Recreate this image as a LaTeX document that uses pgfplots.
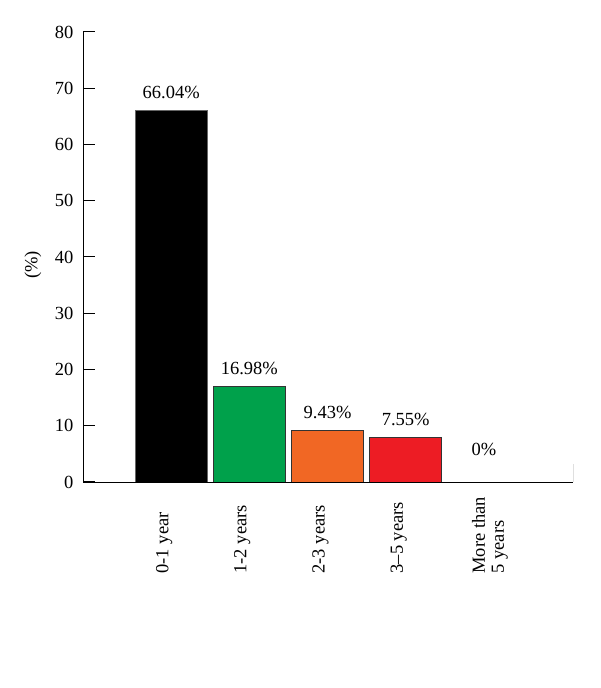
\documentclass[border=0pt]{standalone}
\usepackage{fontspec}
\setmainfont{Liberation Serif}
\usepackage{pgfplots}
\pgfplotsset{compat=1.18}
\definecolor{barblack}{RGB}{0,0,0}
\definecolor{bargreen}{RGB}{0,161,75}
\definecolor{barorange}{RGB}{241,103,36}
\definecolor{barred}{RGB}{237,28,36}
\begin{document}
\begin{tikzpicture}[x=1pt,y=1pt]
\path[use as bounding box] (0,0) rectangle (600,688);
\begin{axis}[
    at={(83pt,206pt)}, anchor=south west,
    scale only axis,
    width=490pt, height=450pt,
    xmin=-1.128, xmax=5.14,
    ymin=0, ymax=80,
    axis lines=left,
    axis line style={-, line width=0.9pt},
    ytick={0,10,...,80},
    xtick={0,1,2,3},
    xticklabels={0-1 year, 1-2 years, 2-3 years, 3--5 years},
    extra x ticks={4},
    extra x tick labels={{More than\\5 years}},
    extra x tick style={xticklabel style={yshift=-13pt}},
    tick align=inside,
    major tick length=12pt,
    ytick style={draw=black, line width=1pt},
    xtick style={draw=none},
    font=\fontsize{18.5}{19}\selectfont,
    /pgf/number format/assume math mode=true,
    yticklabel style={xshift=-6pt},
    xticklabel style={rotate=90, anchor=west, align=left, yshift=7pt},
    xticklabel shift=83pt,
    ylabel={(\%)},
    ylabel style={at={(axis description cs:-0.102,0.482)}, anchor=center},
    ybar, bar width=72pt, bar shift=0pt,
    nodes near coords,
    point meta=explicit symbolic,
    nodes near coords style={anchor=south, yshift=8pt, font=\fontsize{18.5}{19}\selectfont},
  ]
  \addplot[fill=barblack, draw=black!60, line width=0.8pt] coordinates {(0,66.04) [66.04\%]};
  \addplot[fill=bargreen, draw=black!80, line width=0.8pt] coordinates {(1,16.98) [16.98\%]};
  \addplot[fill=barorange, draw=black!80, line width=0.8pt] coordinates {(2,9.1) [9.43\%]};
  \addplot[fill=barred, draw=black!80, line width=0.8pt] coordinates {(3,8.0) [7.55\%]};
  \addplot[draw=none, fill=none, nodes near coords style={yshift=15pt}] coordinates {(4,0) [0\%]};
  \draw[line width=1pt] (axis cs:5.14,0) -- ++(0pt,18pt);
\end{axis}
\end{tikzpicture}
\end{document}
